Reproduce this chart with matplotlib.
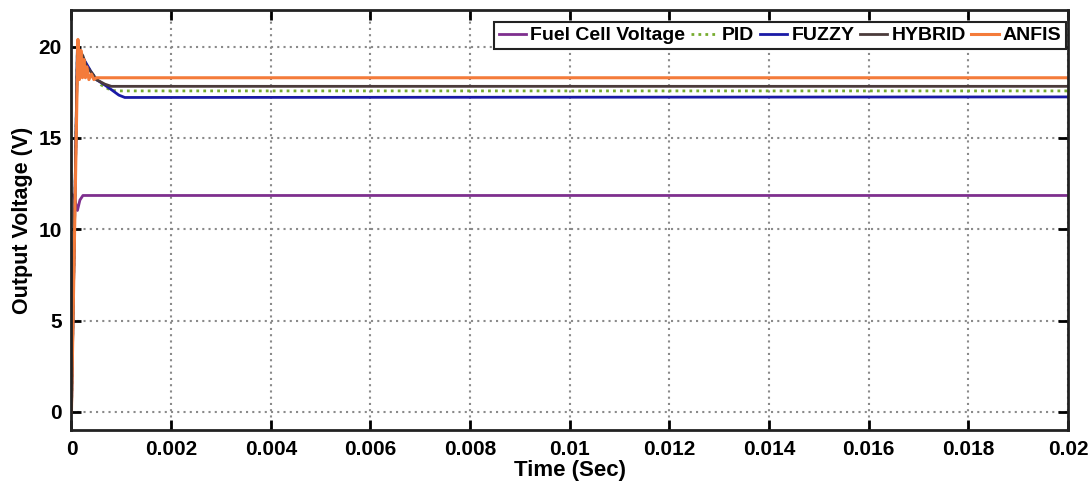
import numpy as np
import matplotlib
matplotlib.use('Agg')
import matplotlib.pyplot as plt

plt.rcParams['font.family'] = ['Liberation Sans', 'DejaVu Sans']
plt.rcParams['font.weight'] = 'bold'

# (time in s, voltage in V)
fc_t = [0, 0.00005, 0.00012, 0.00017, 0.00023, 0.0004, 0.02]
fc_v = [11.95, 11.8, 11.03, 11.6, 11.85, 11.85, 11.85]

pid_t = [0, 0.00012, 0.00023, 0.0004, 0.0006, 0.0008, 0.001, 0.02]
pid_v = [0, 20.0, 19.3, 18.6, 17.9, 17.6, 17.58, 17.58]

fuzzy_t = [0, 0.00012, 0.00023, 0.0004, 0.0005, 0.00067, 0.0008, 0.00095, 0.00107, 0.02]
fuzzy_v = [0, 20.0, 19.4, 18.6, 18.2, 17.9, 17.65, 17.35, 17.22, 17.25]

hybrid_t = [0, 0.00012, 0.00023, 0.0003, 0.0004, 0.0005, 0.00067, 0.0008, 0.02]
hybrid_v = [0, 20.0, 19.5, 18.9, 18.6, 18.2, 17.95, 17.83, 17.83]

anfis_t = [0, 0.00013, 0.00016, 0.00019, 0.00022, 0.00025, 0.00028, 0.00031,
           0.00035, 0.0004, 0.00045, 0.0005, 0.02]
anfis_v = [0, 20.4, 18.2, 19.8, 18.3, 19.3, 18.3, 18.9, 18.2, 18.5, 18.2, 18.3, 18.3]

xticks = [0, 0.002, 0.004, 0.006, 0.008, 0.01, 0.012, 0.014, 0.016, 0.018, 0.02]
xtick_labels = ['0', '0.002', '0.004', '0.006', '0.008', '0.01', '0.012',
                '0.014', '0.016', '0.018', '0.02']
yticks = [0, 5, 10, 15, 20]

fig = plt.figure(figsize=(10.91, 4.87), dpi=100)
ax = fig.add_axes([0.0655, 0.117, 0.9135, 0.862])

ax.plot(fc_t, fc_v, color='#7E2F8E', lw=2, label='Fuel Cell Voltage')
ax.plot(pid_t, pid_v, color='#77AC30', lw=2, ls=(0, (1, 1.5)), label='PID')
ax.plot(fuzzy_t, fuzzy_v, color='#1A1AA6', lw=2, label='FUZZY')
ax.plot(hybrid_t, hybrid_v, color='#4B3B3B', lw=2, label='HYBRID')
ax.plot(anfis_t, anfis_v, color='#F47B3A', lw=2.2, label='ANFIS')

ax.set_xlim(0, 0.02)
ax.set_ylim(-1, 22)
ax.set_xticks(xticks)
ax.set_xticklabels(xtick_labels)
ax.set_yticks(yticks)

ax.grid(True, color='#8a8a8a', ls=(0, (1, 2)), lw=1.5)
ax.tick_params(direction='in', top=True, right=True, length=7, width=2,
               labelsize=15, pad=7)
for s in ax.spines.values():
    s.set_linewidth(2)
    s.set_color('#222222')

ax.set_xlabel('Time (Sec)', fontsize=16, fontweight='bold', labelpad=1)
ax.set_ylabel('Output Voltage (V)', fontsize=15.5, fontweight='bold', labelpad=4)

leg = ax.legend(loc='upper right', bbox_to_anchor=(0.998, 0.972), ncol=5,
                fontsize=14, handlelength=1.4, handletextpad=0.2,
                columnspacing=0.3, borderpad=0.25, fancybox=False,
                framealpha=1, borderaxespad=0)
leg.get_frame().set_edgecolor('#222222')
leg.get_frame().set_linewidth(1.5)

fig.savefig('out.png', dpi=100)
